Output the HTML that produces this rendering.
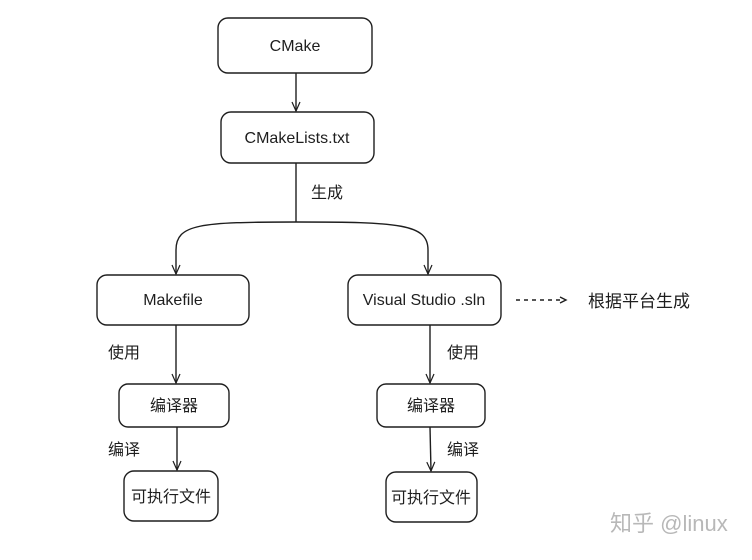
<!DOCTYPE html>
<html><head><meta charset="utf-8"><style>
body{margin:0;background:#fff;}
svg text{font-family:"Liberation Sans","Noto Sans CJK SC",sans-serif;fill:#1e1e1e;}
</style></head><body>
<svg width="752" height="555" viewBox="0 0 752 555" xmlns="http://www.w3.org/2000/svg">
<defs><marker id="a" markerWidth="12" markerHeight="12" refX="10" refY="5" orient="auto" markerUnits="userSpaceOnUse"><path d="M1,1 L10,5 L1,9" fill="none" stroke="#1e1e1e" stroke-width="1.2"/></marker></defs>
<g fill="none" stroke="#1e1e1e" stroke-width="1.4">
<rect x="218" y="18" width="154" height="55" rx="10"/>
<rect x="221" y="112" width="153" height="51" rx="10"/>
<rect x="97" y="275" width="152" height="50" rx="10"/>
<rect x="348" y="275" width="153" height="50" rx="10"/>
<rect x="119" y="384" width="110" height="43" rx="9"/>
<rect x="377" y="384" width="108" height="43" rx="9"/>
<rect x="124" y="471" width="94" height="50" rx="10"/>
<rect x="386" y="472" width="91" height="50" rx="10"/>
<line x1="296" y1="73" x2="296" y2="111" marker-end="url(#a)"/>
<line x1="296" y1="163" x2="296" y2="222"/>
<path d="M296,222 C200,222 176,224 176,250 L176,274" marker-end="url(#a)"/>
<path d="M296,222 C400,222 428,224 428,250 L428,274" marker-end="url(#a)"/>
<line x1="176" y1="325" x2="176" y2="383" marker-end="url(#a)"/>
<line x1="430" y1="325" x2="430" y2="383" marker-end="url(#a)"/>
<line x1="177" y1="427" x2="177" y2="470" marker-end="url(#a)"/>
<line x1="430" y1="427" x2="431" y2="471" marker-end="url(#a)"/>
<line x1="516" y1="300" x2="562" y2="300" stroke-dasharray="4,4"/>
<path d="M560,297 L566,300 L560,303"/>
</g>
<g font-size="16" text-anchor="middle">
<text x="295" y="51">CMake</text>
<text x="297" y="143">CMakeLists.txt</text>
<text x="173" y="305">Makefile</text>
<text x="424" y="305">Visual Studio .sln</text>
<text x="174" y="411">编译器</text>
<text x="431" y="411">编译器</text>
<text x="171" y="502">可执行文件</text>
<text x="431" y="503">可执行文件</text>
</g>
<g font-size="16">
<text x="311" y="198">生成</text>
<text x="108" y="358">使用</text>
<text x="447" y="358">使用</text>
<text x="108" y="455">编译</text>
<text x="447" y="455">编译</text>
<text x="588" y="307" font-size="17">根据平台生成</text>
<text x="610" y="531" font-size="22" style="fill:#b8b8b8">知乎 @linux</text>
</g>
</svg>
</body></html>
